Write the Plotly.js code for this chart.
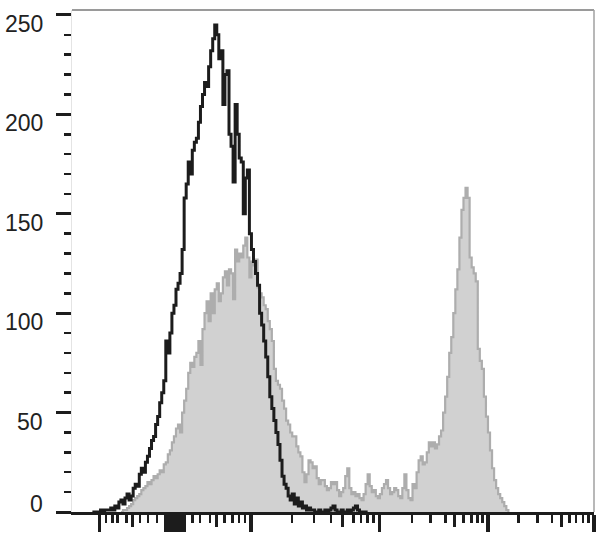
<!DOCTYPE html>
<html>
<head>
<meta charset="utf-8">
<script src="https://cdn.plot.ly/plotly-3.0.1.min.js"></script>
<style>html,body{margin:0;padding:0;background:#fff;}#chart{width:608px;height:545px;}</style>
</head>
<body>
<div id="chart"></div>
<script>
// Display channels (0-256) on a logicle-like axis; counts per channel.
var blackStart = 10;
var blackCounts = [0,0,0,0,1,0,1,1,1,2,1,3,2,5,6,4,7,9,6,8,12,14,13,19,22,20,25,28,32,36,38,44,48,55,60,66,86,80,90,100,104,112,115,120,132,158,165,176,170,182,186,188,196,204,210,216,214,224,232,238,245,240,228,232,205,220,222,190,184,166,205,190,178,176,150,168,172,140,132,126,120,114,100,94,86,78,68,58,52,46,40,34,26,18,14,12,8,6,9,4,7,3,5,2,3,1,2,1,1,0,0,1,0,0,1,0,1,2,3,1,0,0,1,0,0,1,0,1,2,3,1,0,0,0,0,0];

var grayStart = 24;
var grayCounts = [0,1,1,2,3,4,6,7,8,9,11,12,13,15,14,16,18,17,19,21,20,24,25,29,31,35,38,42,44,40,50,56,62,70,75,73,78,80,86,74,92,100,106,96,110,100,112,115,106,110,118,121,114,122,120,107,132,126,130,128,134,138,128,118,126,124,127,113,110,108,104,102,96,92,86,72,66,64,62,56,52,46,44,40,38,38,33,30,28,20,15,19,26,25,22,23,17,14,16,16,13,11,12,15,14,15,11,8,10,12,18,22,12,9,10,8,9,7,6,9,14,19,13,10,11,8,7,9,12,14,16,12,9,10,12,11,8,7,12,19,11,7,6,14,12,20,26,28,24,25,30,35,33,35,32,34,38,41,50,58,68,80,88,100,112,122,138,152,158,163,158,128,123,120,116,82,76,72,58,48,40,31,22,16,12,9,7,5,3,1,0];

var yTickVals = [0,50,100,150,200,250];
var yTickText = ['0','50','100','150','200','250'];

var xLongTicks = [13.4,46.1,47.3,48.5,49.5,50.5,51.5,52.7,53.9,55.1,87.8,150.7,203.9,255.9];
var xMidTicks = [29.8,71.0,132.8,187.8,240.2];
var xShortTicks = [16.7,19.8,22.2,26.8,33.3,37.3,41.8,59.0,62.8,67.7,74.7,78.8,81.9,84.8,108.0,118.8,126.9,138.0,141.7,144.8,147.8,166.7,175.9,183.1,191.9,196.0,198.8,201.2,218.9,228.2,235.3,243.9,247.2,250.5,253.3];

function channels(start, arr){ return arr.map(function(_, i){ return start + i; }); }

var ink = '#1c1c1c';

var grayTrace = {
  x: channels(grayStart, grayCounts), y: grayCounts,
  type: 'scatter', mode: 'lines', line: {shape: 'hv', color: '#adadad', width: 2.2},
  fill: 'tozeroy', fillcolor: '#d1d1d1', xaxis: 'x', yaxis: 'y', hoverinfo: 'skip'
};
var blackTrace = {
  x: channels(blackStart, blackCounts), y: blackCounts,
  type: 'scatter', mode: 'lines', line: {shape: 'hv', color: ink, width: 3},
  xaxis: 'x2', yaxis: 'y', hoverinfo: 'skip'
};

var annotations = yTickVals.map(function(v, i){
  return {
    xref: 'paper', yref: 'y', x: 0, y: v, xanchor: 'right', yanchor: 'middle',
    xshift: -27, yshift: (v === 0 ? 8 : -9), showarrow: false,
    text: yTickText[i], font: {family: 'Liberation Sans, Arial, sans-serif', size: 23, color: '#222'}
  };
});

var layout = {
  width: 608, height: 545,
  margin: {l: 72, r: 14, t: 10, b: 33, pad: 0},
  paper_bgcolor: '#fff', plot_bgcolor: '#fff',
  showlegend: false,
  xaxis: {
    range: [0, 256], fixedrange: true, showgrid: false, zeroline: false,
    showline: true, linecolor: ink, linewidth: 3,
    tickmode: 'array', tickvals: xLongTicks, ticks: 'outside', ticklen: 17, tickwidth: 3.5, tickcolor: ink,
    showticklabels: false,
    minor: {tickmode: 'array', tickvals: xShortTicks, ticks: 'outside', ticklen: 8, tickwidth: 2.5, tickcolor: ink, showgrid: false}
  },
  xaxis2: {
    overlaying: 'x', anchor: 'y', side: 'bottom',
    range: [0, 256], fixedrange: true, showgrid: false, zeroline: false,
    showline: true, linecolor: ink, linewidth: 3,
    tickmode: 'array', tickvals: xMidTicks, ticks: 'outside', ticklen: 12, tickwidth: 3, tickcolor: ink,
    showticklabels: false
  },
  yaxis: {
    range: [0, 252.5], fixedrange: true, showgrid: false, zeroline: false,
    showline: true, linecolor: '#e4e4e4', linewidth: 1,
    tickmode: 'array', tickvals: yTickVals, ticks: 'outside', ticklen: 15, tickwidth: 3, tickcolor: ink,
    showticklabels: false,
    minor: {tickmode: 'linear', tick0: 0, dtick: 10, ticks: 'outside', ticklen: 7, tickwidth: 2.5, tickcolor: ink, showgrid: false}
  },
  shapes: [
    {type: 'line', xref: 'paper', yref: 'paper', x0: 0, x1: 1, y0: 1, y1: 1, line: {color: '#9a9a9a', width: 2}},
    {type: 'line', xref: 'paper', yref: 'paper', x0: 1, x1: 1, y0: 0, y1: 1, line: {color: '#a0a0a0', width: 1.5}}
  ],
  annotations: annotations
};

Plotly.newPlot('chart', [grayTrace, blackTrace], layout, {staticPlot: true, displayModeBar: false});
</script>
</body>
</html>
